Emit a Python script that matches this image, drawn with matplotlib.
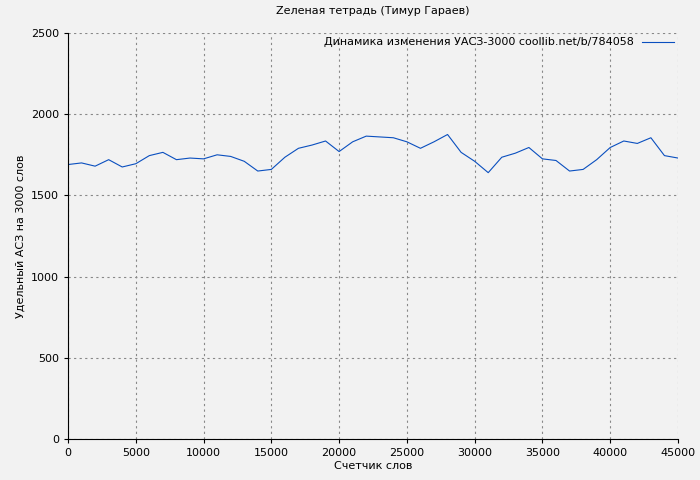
import matplotlib
matplotlib.use("Agg")
import matplotlib.pyplot as plt

words = list(range(0, 46000, 1000))
uasz = [1690, 1700, 1680, 1720, 1675, 1695, 1745, 1765, 1720, 1730,
        1725, 1750, 1740, 1710, 1650, 1660, 1735, 1790, 1810, 1835,
        1770, 1830, 1865, 1860, 1855, 1830, 1790, 1830, 1875, 1765,
        1710, 1640, 1735, 1760, 1795, 1725, 1715, 1650, 1660, 1720,
        1795, 1835, 1820, 1855, 1745, 1730]

fig = plt.figure(figsize=(7, 4.8), dpi=100, facecolor="#f2f2f2")
ax = fig.add_axes([68/700, 41/480, 610/700, 406/480])
ax.set_facecolor("#f2f2f2")
ax.plot(words, uasz, color="#0a4fbf", lw=0.8, label="Динамика изменения УАСЗ-3000 coollib.net/b/784058")
ax.set_xlim(0, 45000)
ax.set_ylim(0, 2500)
ax.set_xticks(range(0, 45001, 5000))
ax.set_yticks(range(0, 2501, 500))
ax.grid(True, color="#888888", ls=(0, (2, 3)), lw=0.8)
for s in ["top", "right"]:
    ax.spines[s].set_visible(False)
ax.tick_params(labelsize=8, length=3)
ax.set_xlabel("Счетчик слов", fontsize=8, labelpad=2)
ax.set_ylabel("Удельный АСЗ на 3000 слов", fontsize=8)
ax.set_title("Zеленая тетрадь (Тимур Гараев)", fontsize=8, pad=14)
leg = ax.legend(loc="upper right", frameon=False, fontsize=8, markerfirst=False,
                handlelength=2.8, borderaxespad=0.0, bbox_to_anchor=(1.0, 1.0))
fig.savefig("out.png", facecolor=fig.get_facecolor())
